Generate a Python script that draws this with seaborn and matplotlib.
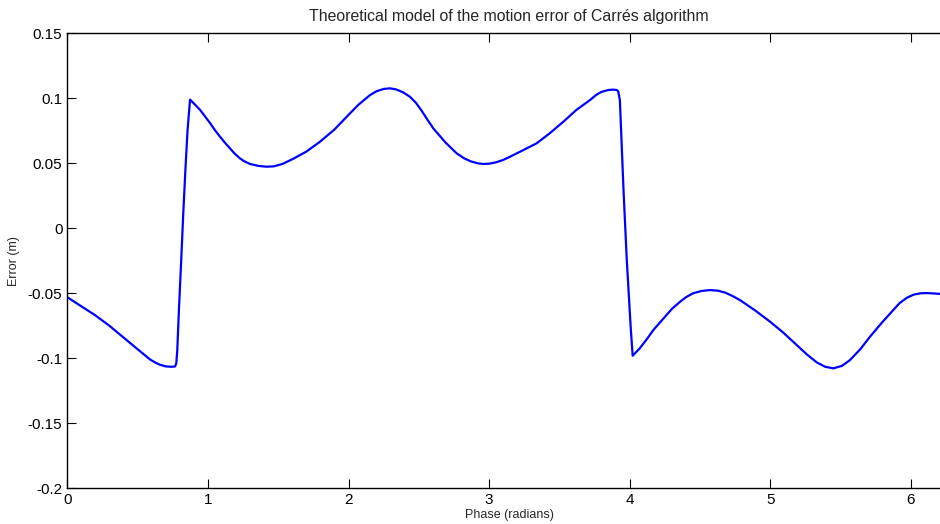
import numpy as np
import pandas as pd
import matplotlib
matplotlib.use('Agg')
import matplotlib.pyplot as plt
import seaborn as sns

phase = [0, 0.1, 0.2, 0.3, 0.4, 0.5, 0.59, 0.63, 0.66, 0.70, 0.74, 0.766, 0.775,
         0.782, 0.795, 0.81, 0.825, 0.84, 0.855, 0.873, 0.91, 0.945, 0.98,
         1.015, 1.05, 1.086, 1.12, 1.157, 1.19, 1.228, 1.26, 1.30, 1.36, 1.418, 1.47,
         1.53, 1.607, 1.70, 1.797, 1.90, 1.987, 2.07, 2.153, 2.20, 2.25, 2.295, 2.34,
         2.39, 2.437, 2.48, 2.52, 2.56, 2.603, 2.69, 2.769, 2.82, 2.87, 2.92, 2.959,
         3.0, 3.05, 3.10, 3.149, 3.24, 3.338, 3.43, 3.528, 3.62, 3.718, 3.76, 3.80,
         3.848, 3.88, 3.907, 3.918, 3.93, 3.957, 3.979, 4.007, 4.021, 4.07, 4.12,
         4.17, 4.239, 4.30, 4.358, 4.40, 4.45, 4.51, 4.571, 4.63, 4.68, 4.73, 4.784,
         4.89, 4.998, 5.09, 5.188, 5.26, 5.33, 5.39, 5.448, 5.51, 5.567, 5.64, 5.709,
         5.79, 5.875, 5.92, 5.97, 6.02, 6.067, 6.11, 6.15, 6.21, 6.283]
error = [-0.053, -0.060, -0.067, -0.075, -0.084, -0.093, -0.101, -0.1035, -0.105,
         -0.1062, -0.1065, -0.1063, -0.104, -0.094, -0.060, -0.025, 0.012, 0.045,
         0.075, 0.099, 0.095, 0.091, 0.086, 0.081, 0.0755, 0.0705, 0.066,
         0.0615, 0.0575, 0.0538, 0.0515, 0.0495, 0.0480, 0.0474, 0.0477, 0.0495,
         0.0535, 0.059, 0.0666, 0.076, 0.0858, 0.095, 0.1025, 0.1055, 0.1072, 0.1077,
         0.1068, 0.1045, 0.1012, 0.0965, 0.0905, 0.0838, 0.0769, 0.066, 0.0577,
         0.0540, 0.0515, 0.0500, 0.0495, 0.0497, 0.0508, 0.0526, 0.0551, 0.060,
         0.0654, 0.073, 0.082, 0.091, 0.0987, 0.1025, 0.1050, 0.1064, 0.1067, 0.1064,
         0.1055, 0.0987, 0.027, -0.024, -0.076, -0.098, -0.0925, -0.0855, -0.078,
         -0.0695, -0.062, -0.0565, -0.053, -0.0500, -0.0482, -0.0475, -0.0480,
         -0.0495, -0.0520, -0.0552, -0.063, -0.0718, -0.080, -0.0898, -0.097,
         -0.1031, -0.1065, -0.1077, -0.1058, -0.1013, -0.093, -0.0834, -0.073,
         -0.0628, -0.0575, -0.0535, -0.0510, -0.0500, -0.0498, -0.0500, -0.0505,
         -0.0512]

xticks = [0, 1, 2, 3, 4, 5, 6]
yticks = [-0.2, -0.15, -0.1, -0.05, 0, 0.05, 0.1, 0.15]
ytick_labels = ['-0.2', '-0.15', '-0.1', '-0.05', '0', '0.05', '0.1', '0.15']

df = pd.DataFrame({'Phase': phase, 'Error': error})

sns.set_style('ticks')
plt.rcParams['font.family'] = ['Liberation Sans', 'DejaVu Sans']

fig = plt.figure(figsize=(9.4, 5.24), dpi=100)
ax = fig.add_axes([0.0716, 0.0681, 0.9398, 0.8683])

sns.lineplot(data=df, x='Phase', y='Error', color='#0000ff', linewidth=1.6,
             estimator=None, ax=ax)

ax.set_xlim(0, 2 * np.pi)
ax.set_ylim(-0.2, 0.15)
ax.set_xticks(xticks)
ax.set_xticklabels([str(t) for t in xticks])
ax.set_yticks(yticks)
ax.set_yticklabels(ytick_labels)
ax.tick_params(direction='in', length=6.5, width=0.8, labelsize=11, pad=3.5,
               top=True, right=True, colors='black')
for s in ax.spines.values():
    s.set_linewidth(1.0)
    s.set_color('black')

ax.set_title('Theoretical model of the motion error of Carrés algorithm',
             fontsize=11.4, pad=9)
ax.set_xlabel('Phase (radians)', fontsize=9)
ax.set_ylabel('Error (m)', fontsize=9)
ax.xaxis.set_label_coords(0.5, -0.046)
ax.yaxis.set_label_coords(-0.0535, 0.5)

fig.savefig('out.png', dpi=100)
